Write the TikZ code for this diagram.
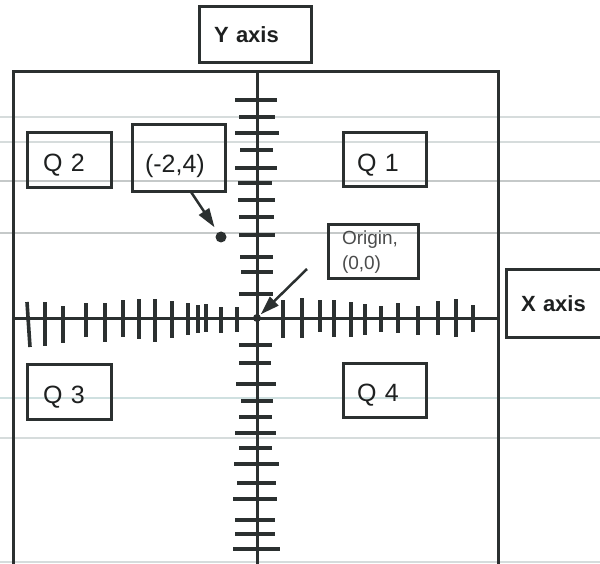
\documentclass[tikz,border=0pt]{standalone}
\usepackage{fontspec}
\setmainfont{Liberation Sans}
\usetikzlibrary{arrows.meta}
\definecolor{ink}{HTML}{2B3030}
\definecolor{txt}{HTML}{1E2020}
\definecolor{faint}{HTML}{D6DCDC}
\definecolor{faintb}{HTML}{CFE0E0}
\begin{document}
\begin{tikzpicture}[x=1pt,y=-1pt,
  frame/.style={draw=ink,line width=3pt},
  tk/.style={draw=ink,line width=3.6pt},
  box/.style={draw=ink,line width=3pt,rectangle,anchor=north west,align=left,
    inner ysep=0pt,outer sep=0pt,text=txt},
  qfont/.style={font=\fontsize{25}{30}\selectfont,text height=23pt,text depth=0pt},
  afont/.style={font=\bfseries\fontsize{22}{26}\selectfont},
  ofont/.style={font=\fontsize{19}{25}\selectfont},
  ptr/.style={draw=ink,line width=2.5pt,-{Triangle[length=19pt,width=12pt]}},
  paper/.style={draw=faint,line width=1.2pt}]
\useasboundingbox (0,0) rectangle (600,564);
\fill[white] (0,0) rectangle (600,564);
\clip (0,0) rectangle (600,564);
% faint paper lines
\foreach \y in {117,142,438,562} \draw[paper] (0,\y) -- (600,\y);
\draw[draw=faint!80!gray,line width=1.4pt] (0,181) -- (600,181);
\draw[draw=faint!80!gray,line width=1.4pt] (0,233) -- (600,233);
\draw[draw=faintb,line width=1.6pt] (0,398) -- (600,398);
% frame
\draw[frame] (13,570) -- (13,72) -- (498,72) -- (498,570);
% axes
\draw[frame] (257,72) -- (257,570);
\draw[frame] (13,318) -- (498,318);
% x ticks
\draw[tk] (27,302) -- (30,347);
\foreach \x/\a/\b in {45/302/346,63/306/343,86/303/337,105/303/342,123/300/337,
  139/299/339,155/299/342,172/301/338,188/303/335,198/305/333,206/304/332,
  221/307/333,237/307/332,283/300/338,302/298/338,320/300/332,334/300/337,
  351/302/337,365/304/335,381/306/332,398/303/333,418/306/335,438/301/335,
  456/299/337,473/305/332}
  \draw[tk] (\x,\a) -- (\x,\b);
% y ticks
\foreach \y/\l/\r in {100/235/277,117/239/275,133/235/279,150/240/273,168/235/277,
  183/238/272,200/238/275,217/239/274,235/239/275,257/240/273,272/241/273,
  294/239/273,345/239/272,363/239/271,384/236/276,401/241/273,417/239/272,
  433/235/276,448/239/272,464/234/279,483/237/276,499/233/277,520/235/275,
  534/235/275,549/233/280}
  \draw[tk] (\l,\y) -- (\r,\y);
% label boxes
\node[box,afont,minimum width=112pt,minimum height=56pt,text width=82pt,inner xsep=15pt] (yax) at (199,7) {Y axis};
\node[box,afont,minimum width=114pt,minimum height=67pt,text width=84pt,inner xsep=15pt] (xax) at (506,270) {X axis};
\node[box,qfont,minimum width=84pt,minimum height=55pt,text width=52pt,inner xsep=16pt] (q2) at (27,133) {Q 2};
\node[box,qfont,text height=28pt,minimum width=93pt,minimum height=67pt,text width=67pt,inner xsep=13pt] (pt) at (132,125) {(-2,4)};
\node[box,qfont,minimum width=83pt,minimum height=54pt,text width=55pt,inner xsep=14pt] (q1) at (343,133) {Q 1};
\node[box,ofont,minimum width=90pt,minimum height=54pt,text width=62pt,inner xsep=14pt,text=txt!80] (org) at (328,225) {Origin,\\(0,0)};
\node[box,qfont,minimum width=84pt,minimum height=55pt,text width=52pt,inner xsep=16pt] (q3) at (27,364) {Q 3};
\node[box,qfont,minimum width=83pt,minimum height=54pt,text width=55pt,inner xsep=14pt] (q4) at (343,363) {Q 4};
% points
\node[circle,fill=ink,inner sep=0pt,minimum size=11pt] (dot) at (221,237) {};
\node[circle,fill=ink,inner sep=0pt,minimum size=8pt] (o) at (257,318) {};
\coordinate (oa) at (307,269);
% pointers
\draw[ptr,shorten >=6pt] ([xshift=12.5pt]pt.south) -- (dot);
\draw[ptr,shorten >=1pt] (oa) -- (o);
\end{tikzpicture}
\end{document}
